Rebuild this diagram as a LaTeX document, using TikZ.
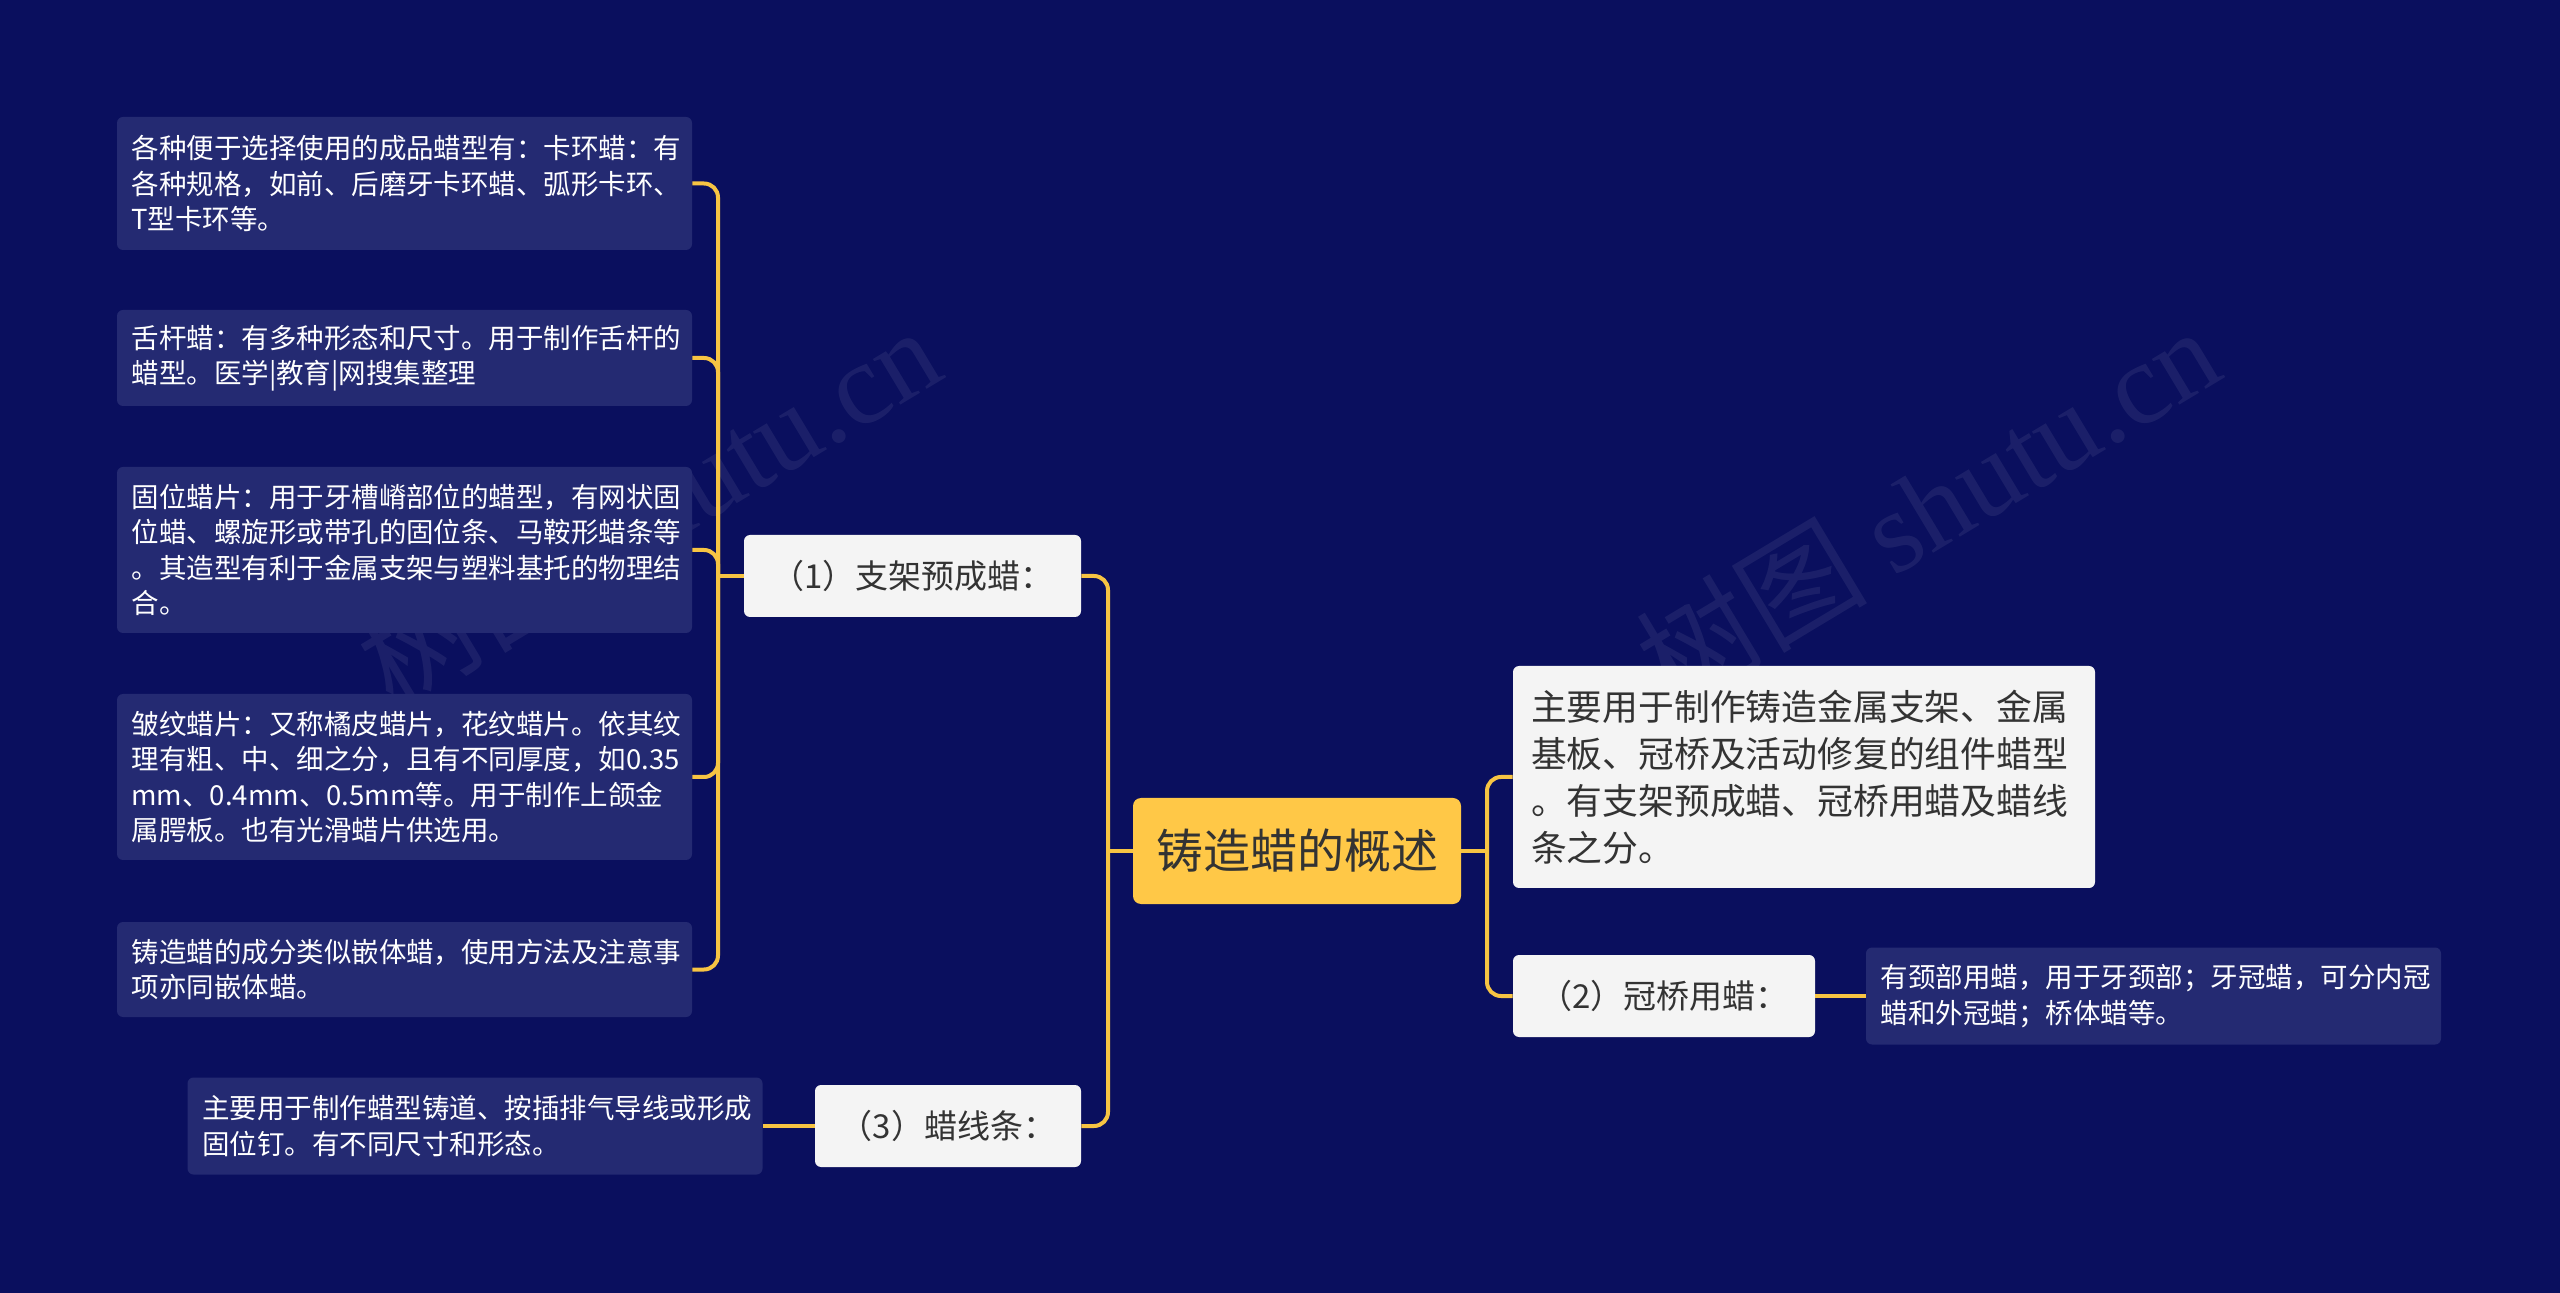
\documentclass[tikz,border=0pt]{standalone}
\usepackage{fontspec}
\setmainfont{Noto Sans CJK SC}
\newfontfamily\wmlatin{Liberation Serif}
\definecolor{navybg}{RGB}{10, 15, 94}
\definecolor{notefill}{RGB}{36, 42, 114}
\definecolor{linkgold}{RGB}{247, 196, 67}
\definecolor{rootgold}{RGB}{255, 200, 71}
\definecolor{cardwhite}{RGB}{244, 244, 244}
\definecolor{inkdark}{RGB}{51, 51, 51}

\begin{document}
\begin{tikzpicture}[x=0.5pt, y=-0.5pt,
        root/.style = {fill=rootgold, text=inkdark, rounded corners=4pt, minimum width=164pt, minimum height=53pt, inner sep=0pt, font=\fontsize{23.5pt}{28pt}\selectfont},
        topic/.style = {fill=cardwhite, text=inkdark, rounded corners=3pt, minimum height=41pt, inner sep=0pt, font=\fontsize{16.5pt}{19pt}\selectfont},
        card/.style = {fill=cardwhite, text=inkdark, rounded corners=3pt, text width=273pt, inner xsep=9pt, inner ysep=0pt, minimum height=111pt, align=left, font=\fontsize{17.9pt}{23.5pt}\selectfont},
        note/.style = {fill=notefill, text=white, rounded corners=3pt, text width=273pt, inner xsep=7.25pt, inner ysep=0pt, align=left, font=\fontsize{13.75pt}{17.75pt}\selectfont},
        wmark/.style = {text=white, opacity=0.07, rotate=31, font=\fontsize{58pt}{60pt}\selectfont},
        link/.style = {draw=linkgold, line width=2pt, rounded corners=7pt}]
    \useasboundingbox (0,0) rectangle (2560,1293);
    \fill[navybg] (0,0) rectangle (2560,1293);
    \node[wmark] (wm1) at (648,506) {树图 {\wmlatin shutu.cn}};
    \node[wmark] (wm2) at (1927,506) {树图 {\wmlatin shutu.cn}};

    \node[root] (root) at (1297,851) {铸造蜡的概述};
    \node[card] (desc) at (1804,777) {主要用于制作铸造金属支架、金属\\基板、冠桥及活动修复的组件蜡型\\。有支架预成蜡、冠桥用蜡及蜡线\\条之分。};
    \node[topic, minimum width=151pt] (crown) at (1664,996) {（2）冠桥用蜡：};
    \node[note, minimum height=48.5pt] (crownnote) at (2153.5,996) {有颈部用蜡，用于牙颈部；牙冠蜡，可分内冠\\蜡和外冠蜡；桥体蜡等。};
    \node[topic, minimum width=168.5pt] (frame) at (912.5,576) {（1）支架预成蜡：};
    \node[topic, minimum width=133pt] (wire) at (948,1126) {（3）蜡线条：};
    \node[note, minimum height=48.5pt] (wirenote) at (475,1126) {主要用于制作蜡型铸道、按插排气导线或形成\\固位钉。有不同尺寸和形态。};
    \node[note, minimum height=66.5pt] (clasp) at (404.5,183.5) {各种便于选择使用的成品蜡型有：卡环蜡：有\\各种规格，如前、后磨牙卡环蜡、弧形卡环、\\T型卡环等。};
    \node[note, minimum height=48pt] (tongue) at (404.5,358) {舌杆蜡：有多种形态和尺寸。用于制作舌杆的\\蜡型。医学|教育|网搜集整理};
    \node[note, minimum height=83pt] (fixing) at (404.5,550) {固位蜡片：用于牙槽嵴部位的蜡型，有网状固\\位蜡、螺旋形或带孔的固位条、马鞍形蜡条等\\。其造型有利于金属支架与塑料基托的物理结\\合。};
    \node[note, minimum height=83pt] (rugae) at (404.5,777) {皱纹蜡片：又称橘皮蜡片，花纹蜡片。依其纹\\理有粗、中、细之分，且有不同厚度，如0.35\\mm、0.4mm、0.5mm等。用于制作上颌金\\属腭板。也有光滑蜡片供选用。};
    \node[note, minimum height=47.5pt] (blend) at (404.5,969.5) {铸造蜡的成分类似嵌体蜡，使用方法及注意事\\项亦同嵌体蜡。};

    \coordinate (rj) at (1487,851);
    \coordinate (lj) at (1108,851);
    \coordinate (fj) at (718,576);

    \draw[link] (root.east) -- (rj);
    \draw[link] (rj) |- (desc.west);
    \draw[link] (rj) |- (crown.west);
    \draw[link] (crown.east) -- (crownnote.west);
    \draw[link] (root.west) -- (lj);
    \draw[link] (lj) |- (frame.east);
    \draw[link] (lj) |- (wire.east);
    \draw[link] (wire.west) -- (wirenote.east);
    \draw[link] (frame.west) -- (fj);
    \draw[link] (fj) |- (clasp.east);
    \draw[link] (fj) |- (tongue.east);
    \draw[link] (fj) |- (fixing.east);
    \draw[link] (fj) |- (rugae.east);
    \draw[link] (fj) |- (blend.east);
\end{tikzpicture}
\end{document}
